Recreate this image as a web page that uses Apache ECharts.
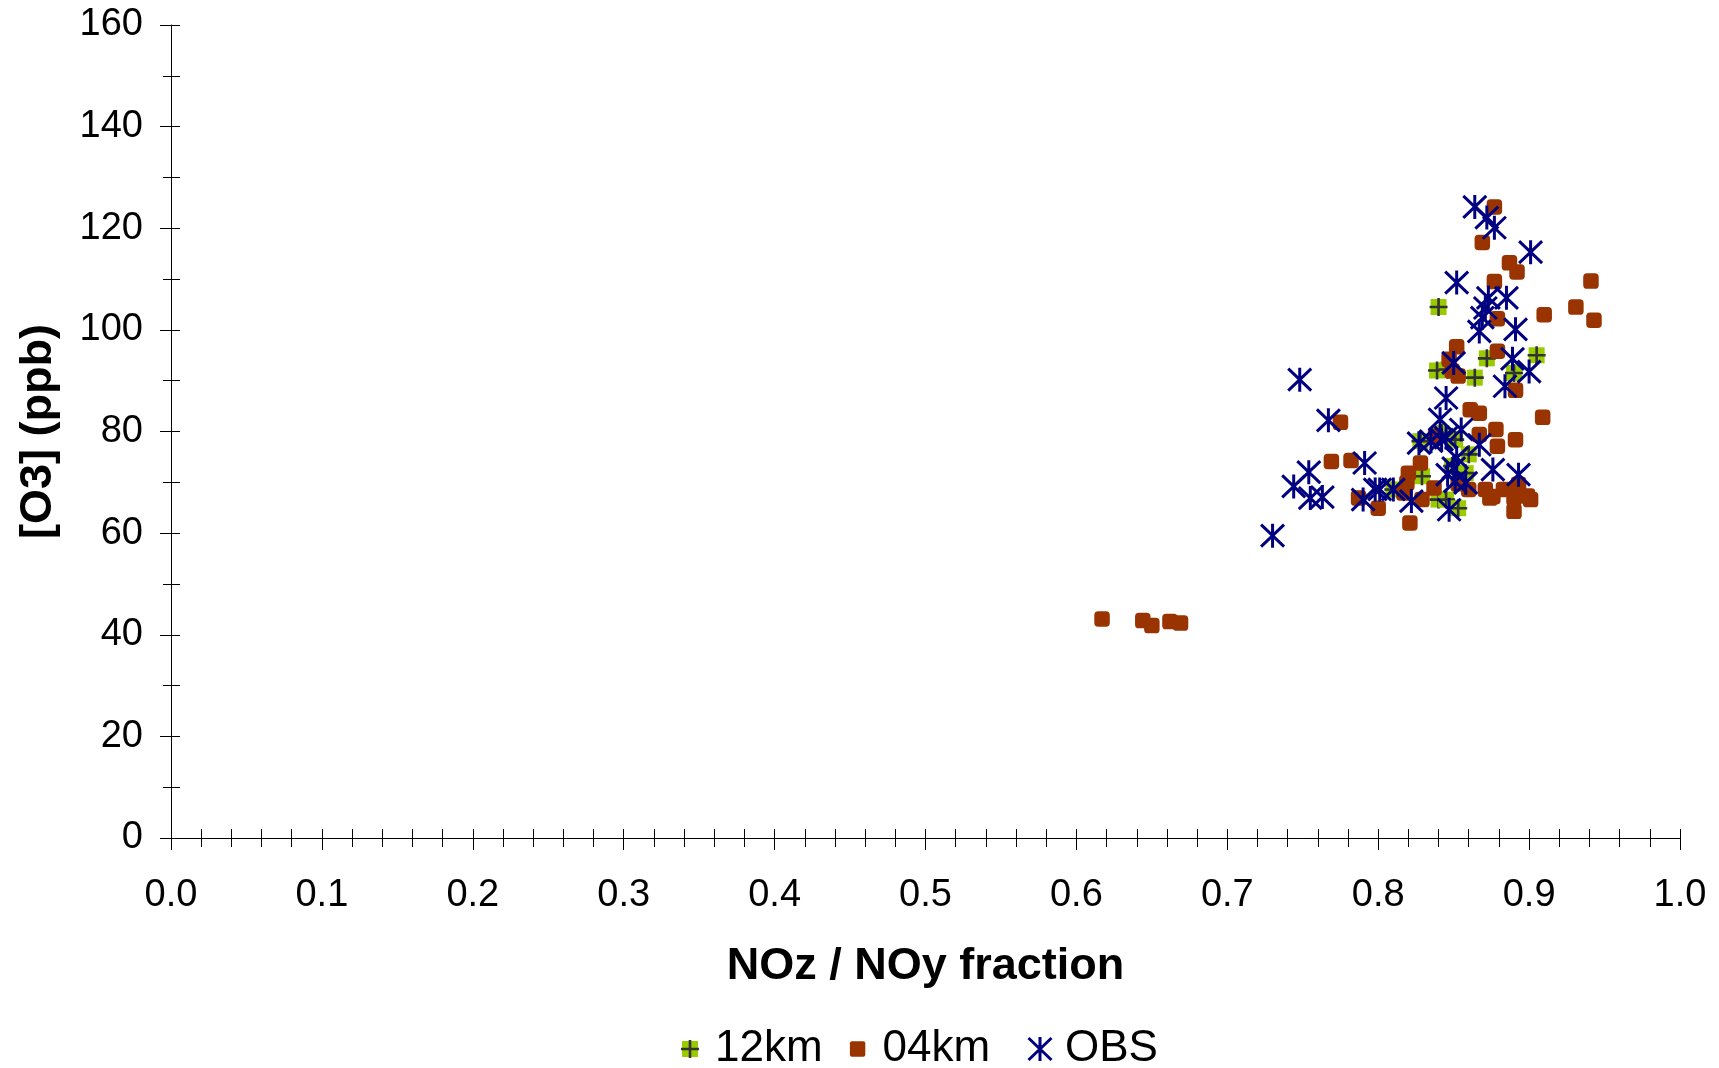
<!DOCTYPE html>
<html>
<head>
<meta charset="utf-8">
<title>O3 vs NOz/NOy</title>
<script src="https://cdn.jsdelivr.net/npm/echarts@6/dist/echarts.min.js"></script>
<style>
  html, body { margin: 0; padding: 0; background: #fff; }
  #chart { width: 1719px; height: 1068px; }
</style>
</head>
<body>
<div id="chart"></div>
<script>
// values: [NOz/NOy fraction, O3 ppb]
const km12 = [
  [0.840, 104.5], [0.872, 94.4], [0.905, 95.0], [0.839, 92.0], [0.846, 92.2],
  [0.864, 90.6], [0.890, 91.5], [0.828, 78.1], [0.842, 79.7], [0.860, 75.5],
  [0.849, 73.2], [0.858, 71.8], [0.829, 71.2], [0.810, 68.6], [0.840, 66.6],
  [0.845, 66.6], [0.853, 64.9], [0.851, 78.4]
]
const km04 = [
  [0.617, 43.1], [0.644, 42.8], [0.650, 41.8], [0.662, 42.6], [0.669, 42.3],
  [0.877, 124.2], [0.869, 117.2], [0.887, 113.2], [0.892, 111.4], [0.877, 109.5],
  [0.941, 109.6], [0.931, 104.5], [0.943, 101.9], [0.910, 103.0], [0.879, 102.2],
  [0.852, 96.7], [0.847, 94.2], [0.879, 95.8], [0.853, 90.9], [0.849, 91.9],
  [0.891, 88.1], [0.909, 82.8], [0.861, 84.3], [0.867, 83.6], [0.878, 80.4],
  [0.867, 79.4], [0.879, 77.1], [0.891, 78.4], [0.838, 79.1], [0.775, 81.8],
  [0.769, 74.1], [0.782, 74.3], [0.787, 66.9], [0.800, 64.9], [0.828, 73.8],
  [0.820, 71.8], [0.819, 69.9], [0.817, 67.9], [0.829, 66.6], [0.837, 68.9],
  [0.821, 62.0], [0.860, 68.6], [0.871, 68.6], [0.874, 66.9], [0.883, 68.6],
  [0.890, 66.9], [0.901, 66.6], [0.899, 67.3], [0.890, 64.3], [0.893, 69.6],
  [0.876, 67.2], [0.853, 69.7]
]
const obs = [
  [0.864, 124.2], [0.872, 122.1], [0.877, 120.1], [0.901, 115.3], [0.852, 109.3],
  [0.873, 106.3], [0.885, 106.3], [0.871, 104.3], [0.869, 102.4], [0.867, 99.7],
  [0.891, 100.1], [0.850, 93.5], [0.889, 94.3], [0.900, 91.8], [0.884, 88.9],
  [0.748, 90.2], [0.767, 82.2], [0.845, 86.6], [0.841, 82.4], [0.855, 80.4],
  [0.827, 77.7], [0.835, 78.1], [0.842, 78.4], [0.867, 77.4], [0.852, 74.8],
  [0.876, 72.5], [0.846, 71.5], [0.851, 70.2], [0.858, 69.9], [0.850, 72.8],
  [0.893, 71.5], [0.791, 73.8], [0.754, 72.0], [0.744, 69.2], [0.755, 66.9],
  [0.763, 67.1], [0.798, 68.6], [0.790, 66.6], [0.801, 68.6], [0.810, 68.6],
  [0.822, 66.3], [0.847, 64.6], [0.730, 59.5], [0.845, 78.8]
]
const seriesNames = ['12km', '04km', 'OBS']

const FONT = '"Liberation Sans", Arial, sans-serif'
const GREEN = '#99cc00'
const BROWN = '#993300'
const NAVY = '#000080'

function svgIcon(w, h, body) {
  const svg = '<svg xmlns="http://www.w3.org/2000/svg" width="' + w + '" height="' + h +
    '" viewBox="0 0 ' + w + ' ' + h + '">' + body + '</svg>'
  return 'image://data:image/svg+xml;charset=utf-8,' + encodeURIComponent(svg)
}
// marker drawings, cx/cy = centre
function plusBox(cx, cy) {
  return '<rect x="' + (cx - 8) + '" y="' + (cy - 8) + '" width="16" height="16" fill="' + GREEN + '"/>' +
    '<path d="M' + (cx - 9) + ',' + cy + 'H' + (cx + 9) + 'M' + cx + ',' + (cy - 9) + 'V' + (cy + 9) +
    '" stroke="#333" stroke-width="2.6" fill="none"/>'
}
function star(cx, cy) {
  return '<path d="M' + cx + ',' + (cy - 12) + 'V' + (cy + 12) +
    'M' + (cx - 11.5) + ',' + (cy - 11) + 'L' + (cx + 11.5) + ',' + (cy + 11) +
    'M' + (cx - 11.5) + ',' + (cy + 11) + 'L' + (cx + 11.5) + ',' + (cy - 11) +
    '" stroke="' + NAVY + '" stroke-width="3" fill="none"/>'
}
function square(cx, cy) {
  return '<rect x="' + (cx - 7.7) + '" y="' + (cy - 7.7) + '" width="15.4" height="15.4" rx="2" fill="' + BROWN + '"/>'
}

const chart = echarts.init(document.getElementById('chart'))

const xBase = { type: 'value', min: 0, max: 1, interval: 0.1, splitLine: { show: false } }
const yBase = { type: 'value', min: 0, max: 160, interval: 20, splitLine: { show: false } }
const line = { show: true, lineStyle: { color: '#000', width: 1 } }
const legendBase = {
  top: 1027,
  padding: 0,
  itemWidth: 40,
  itemHeight: 26,
  itemGap: 15,
  itemStyle: { opacity: 1 },
  textStyle: { fontFamily: FONT, fontSize: 44, color: '#000' }
}

chart.setOption({
  animation: false,
  textStyle: { fontFamily: FONT, color: '#000' },
  grid: { left: 171, right: 39, top: 25, bottom: 230 },
  // two legend boxes so the wider gap before OBS can be kept
  legend: [
    Object.assign({}, legendBase, {
      left: 670,
      data: [
        { name: seriesNames[0], icon: svgIcon(40, 26, plusBox(20, 13)) },
        { name: seriesNames[1], icon: svgIcon(40, 26, square(20, 13)) }
      ]
    }),
    Object.assign({}, legendBase, {
      left: 1020,
      data: [
        { name: seriesNames[2], icon: svgIcon(40, 26, star(20, 13)) }
      ]
    })
  ],
  xAxis: [
    Object.assign({}, xBase, {
      position: 'bottom',
      name: 'NOz / NOy fraction',
      nameLocation: 'middle',
      nameGap: 106,
      nameTextStyle: { fontFamily: FONT, fontSize: 45, fontWeight: 'bold', color: '#000' },
      axisLine: line,
      axisTick: { show: true, length: 12, lineStyle: { color: '#000' } },
      minorTick: { show: true, splitNumber: 5, length: 9, lineStyle: { color: '#000' } },
      axisLabel: {
        fontFamily: FONT, fontSize: 38, color: '#000', margin: 39,
        formatter: v => v.toFixed(1)
      }
    }),
    // second copy only for the tick half that points into the plot
    Object.assign({}, xBase, {
      position: 'bottom',
      axisLine: { show: false },
      axisTick: { show: true, inside: true, length: 9, lineStyle: { color: '#000' } },
      minorTick: { show: true, splitNumber: 5, length: 9, lineStyle: { color: '#000' } },
      axisLabel: { show: false }
    })
  ],
  yAxis: [
    Object.assign({}, yBase, {
      position: 'left',
      name: '[O3] (ppb)',
      nameLocation: 'middle',
      nameGap: 110,
      nameTextStyle: { fontFamily: FONT, fontSize: 45, fontWeight: 'bold', color: '#000' },
      axisLine: line,
      axisTick: { show: true, length: 11, lineStyle: { color: '#000' } },
      minorTick: { show: true, splitNumber: 2, length: 8, lineStyle: { color: '#000' } },
      axisLabel: { fontFamily: FONT, fontSize: 38, color: '#000', margin: 28 }
    }),
    Object.assign({}, yBase, {
      position: 'left',
      axisLine: { show: false },
      axisTick: { show: true, inside: true, length: 9, lineStyle: { color: '#000' } },
      minorTick: { show: true, splitNumber: 2, length: 9, lineStyle: { color: '#000' } },
      axisLabel: { show: false }
    })
  ],
  series: [
    {
      name: seriesNames[0],
      type: 'scatter',
      data: km12,
      symbol: svgIcon(20, 20, plusBox(10, 10)),
      symbolSize: 20,
      itemStyle: { opacity: 1 }
    },
    {
      name: seriesNames[1],
      type: 'scatter',
      data: km04,
      symbol: 'roundRect',
      symbolSize: 15.5,
      itemStyle: { color: BROWN, opacity: 1 }
    },
    {
      name: seriesNames[2],
      type: 'scatter',
      data: obs,
      symbol: svgIcon(27, 27, star(13.5, 13.5)),
      symbolSize: 27,
      itemStyle: { opacity: 1 }
    }
  ]
})
</script>
</body>
</html>
